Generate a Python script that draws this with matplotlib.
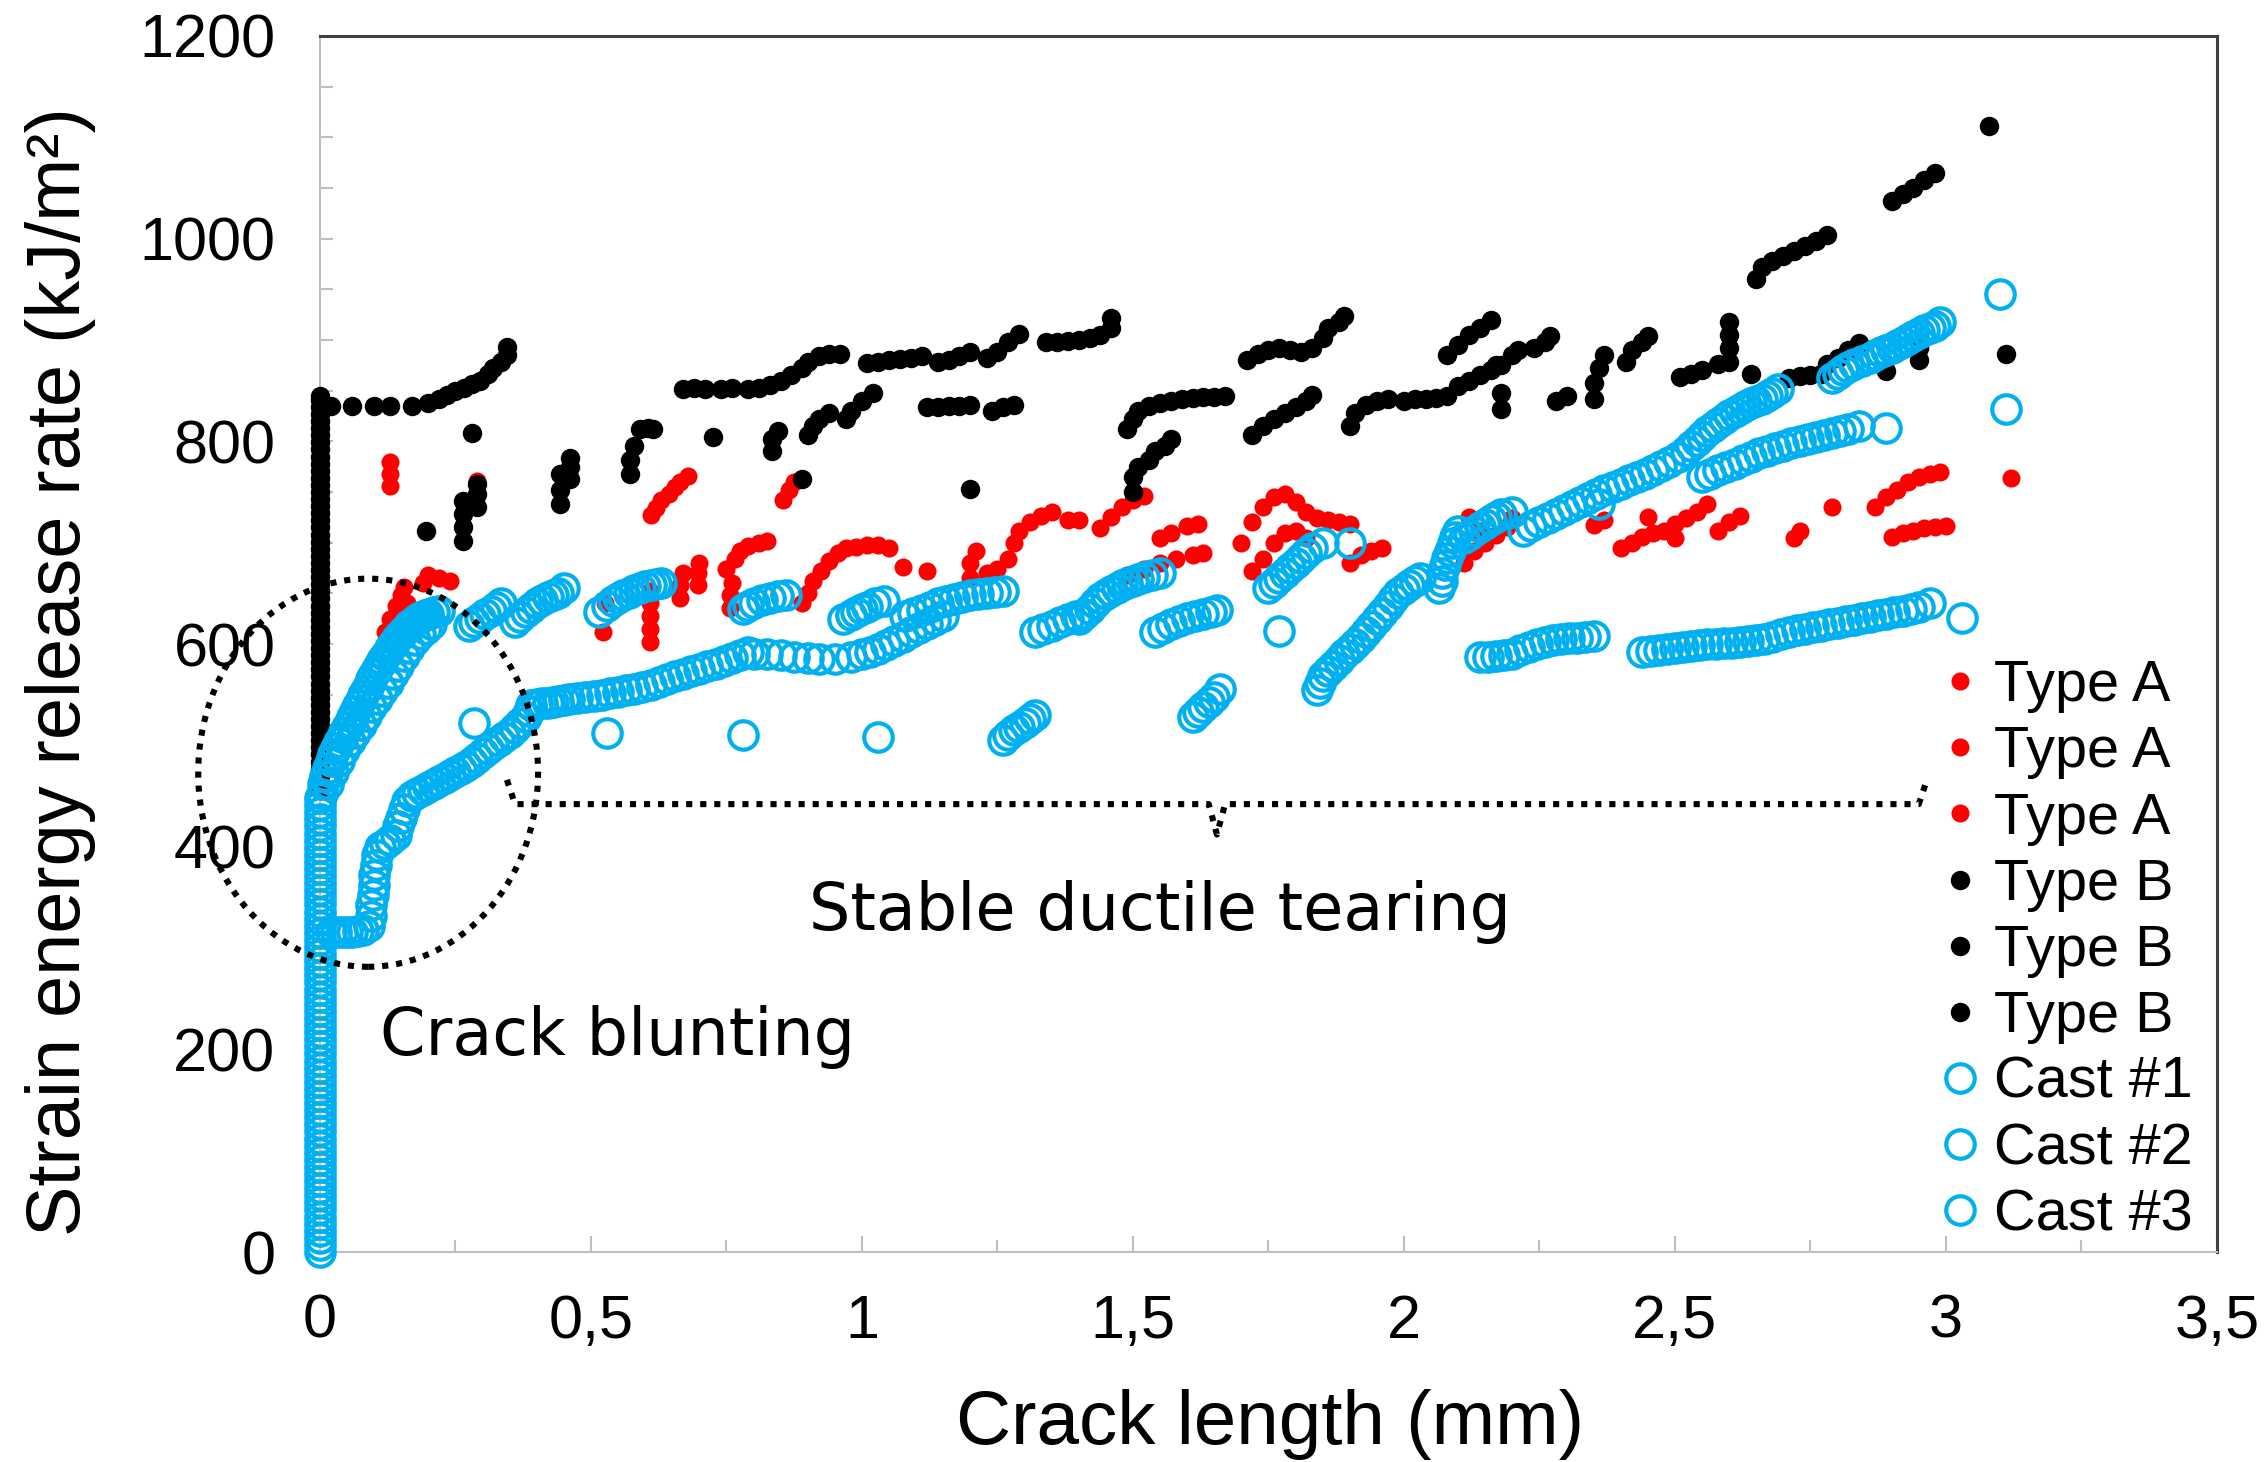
import matplotlib
matplotlib.use('Agg')
import matplotlib.pyplot as plt
from matplotlib.patches import Ellipse
from matplotlib.ticker import MultipleLocator

# Data: (crack length mm, G kJ/m2)

type_a1 = [(0.129, 756), (0.129, 768), (0.129, 780),
           (0.12, 612), (0.13, 625), (0.14, 638), (0.15, 648), (0.155, 656), (0.16, 640),
           (0.19, 660), (0.20, 668), (0.22, 665), (0.24, 662),
           (0.29, 761),
           (0.522, 612), (0.526, 640),
           (0.609, 602), (0.609, 615), (0.609, 628), (0.609, 640), (0.609, 652),
           (0.61, 727), (0.62, 734), (0.63, 742), (0.645, 748), (0.655, 755), (0.665, 760), (0.68, 766),
           (0.664, 645), (0.664, 658), (0.67, 670),
           (0.698, 658), (0.698, 670), (0.70, 680),
           (0.756, 636), (0.756, 648), (0.76, 660),
           (0.75, 674), (0.765, 684), (0.775, 692), (0.79, 697), (0.81, 700), (0.825, 702),
           (0.855, 742), (0.865, 752), (0.875, 760)]

type_a2 = [(0.89, 640), (0.90, 650), (0.91, 662), (0.925, 672), (0.94, 682), (0.955, 690), (0.97, 695),
           (0.99, 696), (1.01, 698), (1.03, 698), (1.05, 695),
           (1.075, 676), (1.12, 672),
           (1.20, 665), (1.20, 680), (1.21, 692), (1.23, 670), (1.25, 674), (1.27, 684), (1.28, 700), (1.29, 712),
           (1.31, 720), (1.33, 726), (1.35, 730), (1.38, 722), (1.40, 722),
           (1.44, 714), (1.46, 725), (1.48, 735), (1.50, 742), (1.52, 746),
           (1.55, 705), (1.57, 710), (1.60, 716), (1.62, 718),
           (1.49, 668), (1.52, 674), (1.55, 680), (1.58, 684), (1.61, 688), (1.63, 690),
           (1.70, 700), (1.72, 720), (1.74, 735), (1.76, 745), (1.78, 748), (1.80, 740), (1.82, 730),
           (1.84, 724), (1.86, 722), (1.88, 720), (1.90, 718),
           (1.72, 672), (1.74, 684), (1.76, 700), (1.78, 710), (1.80, 712), (1.82, 705),
           (1.90, 680), (1.92, 688), (1.94, 692), (1.96, 695)]

type_a3 = [(2.11, 680), (2.13, 692), (2.15, 700), (2.17, 708), (2.19, 715), (2.20, 724), (2.12, 725), (2.14, 712),
           (2.35, 717), (2.37, 722),
           (2.40, 695), (2.42, 700), (2.44, 706), (2.46, 710), (2.48, 712), (2.50, 718), (2.52, 724),
           (2.54, 730), (2.56, 738), (2.45, 725), (2.50, 705),
           (2.58, 712), (2.60, 720), (2.62, 726),
           (2.72, 705), (2.73, 712),
           (2.79, 735),
           (2.87, 735), (2.89, 745), (2.91, 752), (2.93, 760), (2.95, 765), (2.97, 768), (2.99, 770),
           (2.90, 706), (2.92, 710), (2.94, 712), (2.96, 714), (2.98, 715), (3.00, 716),
           (3.12, 764)]

type_b1 = [(0, 456), (0, 463), (0, 470), (0, 477), (0, 484), (0, 491), (0, 498), (0, 505), (0, 512),
           (0, 519), (0, 526), (0, 533), (0, 540), (0, 547), (0, 554), (0, 561), (0, 568), (0, 575),
           (0, 582), (0, 589), (0, 596), (0, 603), (0, 610), (0, 617), (0, 624), (0, 631), (0, 638),
           (0, 645), (0, 652), (0, 659), (0, 666), (0, 673), (0, 680), (0, 687), (0, 694), (0, 701),
           (0, 708), (0, 715), (0, 722), (0, 729), (0, 736), (0, 743), (0, 750), (0, 757), (0, 764),
           (0, 771), (0, 778), (0, 785), (0, 792), (0, 799), (0, 806), (0, 813), (0, 820), (0, 827),
           (0, 834), (0, 841), (0, 845),
           (0.02, 835), (0.06, 835), (0.10, 835), (0.13, 835), (0.17, 835), (0.20, 838), (0.22, 842),
           (0.235, 846), (0.25, 850), (0.265, 853), (0.28, 857), (0.295, 860), (0.31, 866), (0.32, 872),
           (0.335, 878), (0.345, 885), (0.345, 893),
           (0.28, 808), (0.196, 712),
           (0.264, 702), (0.264, 715), (0.264, 728), (0.264, 741),
           (0.29, 735), (0.29, 748), (0.29, 758),
           (0.443, 738), (0.443, 752), (0.443, 768),
           (0.461, 763), (0.461, 775), (0.461, 784),
           (0.572, 768), (0.572, 782), (0.58, 795),
           (0.59, 812), (0.605, 813), (0.614, 812),
           (0.725, 804),
           (0.834, 790), (0.834, 802), (0.845, 810)]

type_b2 = [(0.67, 852), (0.69, 853), (0.71, 852), (0.74, 852), (0.76, 853), (0.79, 852), (0.81, 853),
           (0.83, 856), (0.85, 860), (0.87, 865), (0.89, 872), (0.90, 878), (0.92, 884), (0.94, 886), (0.96, 886),
           (1.01, 877), (1.03, 878), (1.05, 880), (1.07, 881), (1.09, 882), (1.11, 884),
           (1.14, 878), (1.16, 880), (1.18, 884), (1.20, 888),
           (1.23, 882), (1.25, 888), (1.27, 898), (1.29, 906),
           (1.34, 898), (1.36, 898), (1.38, 899), (1.40, 900), (1.42, 902), (1.44, 905), (1.46, 912), (1.46, 922),
           (0.90, 806), (0.91, 815), (0.92, 822), (0.94, 828),
           (0.97, 822), (0.98, 830), (1.00, 840), (1.02, 848),
           (1.12, 834), (1.14, 834), (1.16, 835), (1.18, 835), (1.20, 836),
           (1.24, 830), (1.26, 834), (1.28, 836),
           (0.89, 763), (1.20, 753),
           (1.50, 750), (1.50, 765), (1.51, 775), (1.53, 782), (1.54, 790), (1.56, 795), (1.57, 802),
           (1.49, 812), (1.50, 822), (1.51, 830), (1.53, 835), (1.55, 838), (1.57, 840), (1.59, 842),
           (1.61, 843), (1.63, 844), (1.65, 844), (1.67, 845)]

type_b3 = [(1.71, 880), (1.73, 886), (1.75, 890), (1.77, 892), (1.79, 890), (1.81, 888),
           (1.83, 892), (1.85, 902), (1.86, 912), (1.88, 918), (1.89, 924),
           (1.72, 806), (1.74, 815), (1.76, 822), (1.78, 828), (1.80, 834), (1.82, 840), (1.83, 846),
           (1.90, 815), (1.91, 828), (1.93, 836), (1.95, 840), (1.97, 842),
           (2.00, 840), (2.02, 842), (2.04, 842), (2.06, 843), (2.08, 845),
           (2.10, 855), (2.12, 860), (2.14, 865), (2.16, 870), (2.17, 875),
           (2.08, 885), (2.10, 895), (2.12, 905), (2.14, 912), (2.16, 920),
           (2.18, 875), (2.20, 885), (2.21, 890),
           (2.18, 832), (2.18, 848),
           (2.24, 892), (2.26, 898), (2.27, 904),
           (2.28, 840), (2.30, 845),
           (2.35, 842), (2.35, 858), (2.36, 872), (2.37, 885),
           (2.41, 878), (2.42, 890), (2.44, 898), (2.45, 904),
           (2.51, 863), (2.53, 866), (2.55, 870), (2.58, 876),
           (2.60, 878), (2.60, 892), (2.60, 905), (2.60, 918),
           (2.64, 866),
           (2.71, 862), (2.73, 864), (2.75, 865), (2.77, 866),
           (2.78, 876), (2.80, 882), (2.82, 890), (2.84, 897),
           (2.89, 869), (2.95, 880), (2.95, 892),
           (2.65, 960), (2.66, 972), (2.68, 978), (2.70, 983), (2.72, 988), (2.74, 993), (2.76, 998), (2.78, 1004),
           (2.90, 1037), (2.92, 1044), (2.94, 1050), (2.96, 1058), (2.98, 1065),
           (3.08, 1111), (3.11, 886)]

cast_1 = [(0, 0), (0, 7), (0, 14), (0, 21), (0, 28), (0, 35), (0, 42), (0, 49), (0, 56), (0, 63),
          (0, 70), (0, 77), (0, 84), (0, 91), (0, 98), (0, 105), (0, 112), (0, 119), (0, 126), (0, 133),
          (0, 140), (0, 147), (0, 154), (0, 161), (0, 168), (0, 175), (0, 182), (0, 189), (0, 196),
          (0, 203), (0, 210), (0, 217), (0, 224), (0, 231), (0, 238), (0, 245), (0, 252), (0, 259),
          (0, 266), (0, 273), (0, 280), (0, 287), (0, 294), (0, 301), (0, 308), (0, 315), (0, 322),
          (0, 329), (0, 336), (0, 343), (0, 350), (0, 357), (0, 364), (0, 371), (0, 378), (0, 385),
          (0, 392), (0, 399), (0, 406), (0, 413), (0, 420), (0, 427), (0, 434), (0, 441), (0, 448),
          (0.003, 452), (0.006, 462), (0.01, 470), (0.015, 478), (0.02, 485), (0.025, 491), (0.03, 497),
          (0.035, 503), (0.04, 508), (0.045, 513), (0.05, 518), (0.055, 523), (0.06, 528), (0.065, 534),
          (0.07, 540), (0.075, 545), (0.08, 550), (0.085, 555), (0.09, 560), (0.095, 565), (0.10, 570),
          (0.105, 575), (0.11, 580), (0.115, 584), (0.12, 588), (0.125, 592), (0.13, 596), (0.135, 600),
          (0.14, 604), (0.145, 607), (0.15, 610), (0.155, 613), (0.16, 616), (0.165, 619), (0.17, 621),
          (0.175, 623), (0.18, 625), (0.185, 627), (0.19, 628), (0.195, 629), (0.20, 630), (0.21, 632),
          (0.22, 633),
          (0.015, 462), (0.025, 474), (0.035, 485), (0.045, 495), (0.055, 504), (0.065, 512), (0.075, 520),
          (0.085, 529), (0.095, 538), (0.105, 546), (0.115, 554), (0.125, 562), (0.135, 570), (0.145, 578),
          (0.155, 588), (0.165, 596), (0.175, 604), (0.185, 610), (0.195, 615), (0.205, 620),
          (0.275, 618), (0.285, 622), (0.295, 626), (0.305, 630), (0.315, 633), (0.325, 637), (0.335, 640),
          (0.36, 622), (0.37, 627), (0.38, 632), (0.39, 636), (0.40, 640), (0.41, 643), (0.42, 646),
          (0.43, 648), (0.44, 650), (0.45, 655),
          (0.515, 632), (0.53, 638), (0.54, 642), (0.55, 645), (0.56, 648), (0.57, 650), (0.58, 653),
          (0.59, 655), (0.60, 657), (0.61, 658), (0.62, 659), (0.63, 660),
          (0.78, 635), (0.79, 638), (0.80, 640), (0.815, 643), (0.83, 645), (0.845, 647), (0.86, 648),
          (0.965, 625), (0.98, 629), (0.99, 632), (1.00, 635), (1.01, 637), (1.025, 640), (1.04, 642),
          (1.08, 628), (1.095, 631), (1.11, 634), (1.125, 637), (1.14, 640), (1.155, 642), (1.17, 644),
          (1.185, 646), (1.20, 648), (1.215, 649), (1.23, 650), (1.245, 651), (1.26, 652),
          (1.40, 625), (1.41, 630), (1.42, 635), (1.43, 640), (1.44, 645), (1.45, 649), (1.46, 652),
          (1.47, 655), (1.48, 658), (1.49, 660), (1.50, 662), (1.51, 664), (1.52, 666), (1.535, 668),
          (1.55, 670),
          (0.284, 522), (0.53, 512), (0.78, 510), (1.03, 508)]

cast_2 = [(0.02, 316), (0.03, 316), (0.04, 316), (0.05, 316), (0.06, 316), (0.07, 317), (0.08, 318),
          (0.09, 322), (0.095, 332), (0.095, 342), (0.098, 352), (0.10, 362), (0.10, 372), (0.103, 382),
          (0.106, 392), (0.11, 400), (0.12, 403), (0.13, 407), (0.14, 412), (0.145, 420), (0.15, 428),
          (0.155, 437), (0.16, 445), (0.17, 450), (0.18, 453), (0.19, 456), (0.20, 459), (0.21, 462),
          (0.22, 465), (0.23, 468), (0.24, 471), (0.25, 474), (0.26, 477), (0.27, 480), (0.28, 484),
          (0.29, 488), (0.30, 492), (0.31, 496), (0.32, 500), (0.33, 504), (0.34, 508), (0.35, 512),
          (0.36, 517), (0.37, 522), (0.38, 528), (0.385, 534), (0.39, 540), (0.40, 541), (0.41, 542),
          (0.42, 542), (0.43, 543), (0.44, 544), (0.45, 545), (0.46, 546), (0.475, 547), (0.49, 548),
          (0.505, 549), (0.52, 550), (0.535, 552), (0.55, 553), (0.565, 555), (0.58, 556), (0.595, 558),
          (0.61, 560), (0.625, 563), (0.64, 565), (0.655, 568), (0.67, 570), (0.685, 573), (0.70, 575),
          (0.715, 578), (0.73, 580), (0.745, 583), (0.76, 586), (0.775, 589), (0.79, 592), (0.80, 590),
          (0.825, 590), (0.85, 589), (0.875, 587), (0.90, 586), (0.92, 585), (0.95, 585), (0.98, 587),
          (1.00, 590), (1.015, 592), (1.03, 595), (1.045, 599), (1.06, 603), (1.075, 607), (1.09, 612),
          (1.105, 616), (1.12, 620), (1.135, 624), (1.15, 628),
          (1.26, 505), (1.27, 510), (1.28, 515), (1.29, 518), (1.30, 522), (1.31, 526), (1.32, 530),
          (1.61, 528), (1.62, 533), (1.63, 538), (1.64, 543), (1.65, 548), (1.66, 556),
          (1.32, 612), (1.335, 615), (1.35, 618), (1.365, 622), (1.38, 625), (1.395, 628), (1.41, 630),
          (1.54, 612), (1.555, 616), (1.57, 620), (1.585, 623), (1.60, 626), (1.615, 628), (1.63, 630),
          (1.645, 632), (1.655, 634),
          (1.84, 555), (1.845, 562), (1.85, 568), (1.86, 573), (1.87, 578), (1.88, 584), (1.89, 590),
          (1.90, 595), (1.91, 600), (1.92, 606), (1.93, 612), (1.94, 618), (1.95, 625), (1.96, 631),
          (1.97, 638), (1.98, 644), (1.99, 650), (2.00, 654), (2.01, 658), (2.02, 662), (2.03, 665),
          (1.77, 613), (1.90, 700)]

cast_3 = [(1.75, 655), (1.76, 660), (1.77, 665), (1.78, 670), (1.79, 675), (1.80, 680), (1.81, 685),
          (1.82, 690), (1.83, 695), (1.85, 700),
          (2.065, 655), (2.07, 662), (2.07, 670), (2.075, 678), (2.08, 685), (2.085, 692), (2.09, 700),
          (2.095, 706), (2.10, 712),
          (2.11, 705), (2.12, 708), (2.13, 712), (2.14, 715), (2.15, 718), (2.16, 722), (2.17, 725),
          (2.18, 728), (2.20, 730),
          (2.22, 712), (2.235, 716), (2.25, 720), (2.265, 724), (2.28, 728), (2.295, 732), (2.31, 736),
          (2.325, 740), (2.34, 744), (2.355, 748), (2.37, 752), (2.385, 755), (2.40, 758), (2.415, 762),
          (2.43, 765), (2.445, 768), (2.46, 772), (2.475, 776), (2.49, 780), (2.505, 785), (2.52, 790),
          (2.53, 795), (2.54, 800), (2.55, 805), (2.56, 810), (2.57, 814), (2.58, 818), (2.59, 822),
          (2.60, 826), (2.61, 829), (2.62, 832), (2.63, 835), (2.64, 838), (2.65, 840), (2.66, 842),
          (2.67, 845), (2.68, 848), (2.69, 852),
          (2.36, 738),
          (2.55, 765), (2.565, 768), (2.58, 772), (2.595, 775), (2.61, 778), (2.625, 782), (2.64, 785),
          (2.655, 788), (2.67, 790), (2.685, 793), (2.70, 795), (2.715, 798), (2.73, 800), (2.745, 802),
          (2.76, 804), (2.775, 806), (2.79, 808), (2.805, 810), (2.82, 812), (2.84, 815),
          (2.89, 813),
          (2.79, 862), (2.80, 866), (2.81, 870), (2.82, 873), (2.83, 876), (2.845, 879), (2.86, 882),
          (2.87, 885), (2.88, 888), (2.89, 890), (2.90, 892), (2.91, 895), (2.92, 898), (2.93, 901),
          (2.94, 904), (2.95, 907), (2.96, 910), (2.97, 912), (2.98, 914), (2.99, 918),
          (2.14, 587), (2.155, 587), (2.17, 588), (2.185, 589), (2.20, 590), (2.215, 594), (2.23, 597),
          (2.245, 600), (2.26, 602), (2.275, 604), (2.29, 605), (2.305, 606), (2.32, 606), (2.335, 607),
          (2.35, 608),
          (2.44, 592), (2.455, 593), (2.47, 594), (2.485, 595), (2.50, 596), (2.515, 597), (2.53, 598),
          (2.545, 599), (2.56, 600), (2.575, 600), (2.59, 601), (2.605, 601), (2.62, 602), (2.635, 603),
          (2.65, 604), (2.665, 605), (2.68, 607), (2.695, 610), (2.71, 612), (2.725, 614), (2.74, 615),
          (2.755, 617), (2.77, 618), (2.785, 620), (2.80, 621), (2.815, 623), (2.83, 624), (2.845, 626),
          (2.86, 627), (2.875, 629), (2.89, 630), (2.905, 632), (2.92, 633), (2.935, 635), (2.95, 637),
          (2.97, 640),
          (3.10, 945), (3.11, 832), (3.03, 626)]

x_ticks = [0, 0.5, 1, 1.5, 2, 2.5, 3, 3.5]
x_tick_labels = ['0', '0,5', '1', '1,5', '2', '2,5', '3', '3,5']
y_ticks = [0, 200, 400, 600, 800, 1000, 1200]
y_tick_labels = ['0', '200', '400', '600', '800', '1000', '1200']

# annotation shapes
blunt_center = (0.089, 473)
blunt_w, blunt_h = 0.627, 383
bracket_x = [0.345, 0.36, 1.64, 1.655, 1.67, 2.95, 2.965]
bracket_y = [466, 442, 442, 412, 442, 442, 466]

RED = '#ff0000'
BLACK = '#000000'
CYAN = '#00b0f0'
DOTS = (0, (1.0, 1.3))

plt.rcParams['font.family'] = ['Liberation Sans', 'DejaVu Sans']

fig = plt.figure(figsize=(22.64, 14.62), dpi=100)
ax = fig.add_axes([0.1413, 0.1436, 0.8379, 0.8318])

series = [('Type A', type_a1, 'a'), ('Type A', type_a2, 'a'), ('Type A', type_a3, 'a'),
          ('Type B', type_b1, 'b'), ('Type B', type_b2, 'b'), ('Type B', type_b3, 'b'),
          ('Cast #1', cast_1, 'c'), ('Cast #2', cast_2, 'c'), ('Cast #3', cast_3, 'c')]

for label, pts, kind in series:
    xs = [p[0] for p in pts]
    ys = [p[1] for p in pts]
    if kind == 'a':
        ax.plot(xs, ys, 'o', ms=13, color=RED, mec='none', label=label, clip_on=False, zorder=3)
    elif kind == 'b':
        ax.plot(xs, ys, 'o', ms=14, color=BLACK, mec='none', label=label, clip_on=False, zorder=4)
    else:
        ax.plot(xs, ys, 'o', ms=20.5, mfc='none', mec=CYAN, mew=3.0, label=label, clip_on=False, zorder=5)

ax.set_xlim(0, 3.5)
ax.set_ylim(0, 1200)
ax.set_xticks(x_ticks)
ax.set_xticklabels(x_tick_labels)
ax.set_yticks(y_ticks)
ax.set_yticklabels(y_tick_labels)
ax.xaxis.set_minor_locator(MultipleLocator(0.25))
ax.yaxis.set_minor_locator(MultipleLocator(50))
ax.tick_params(axis='both', which='both', direction='in', color='#bfbfbf', width=1.5, labelsize=44)
ax.tick_params(axis='x', which='major', length=11.5, pad=30)
ax.tick_params(axis='x', which='minor', length=8.5)
ax.tick_params(axis='y', which='both', length=9, pad=32)

for s in ['left', 'bottom']:
    ax.spines[s].set_color('#bfbfbf')
    ax.spines[s].set_linewidth(1.5)
for s in ['top', 'right']:
    ax.spines[s].set_color('#404040')
    ax.spines[s].set_linewidth(2.2)

ax.set_xlabel('Crack length (mm)', fontsize=55)
ax.set_ylabel('Strain energy release rate (kJ/m²)', fontsize=54.5)
ax.xaxis.set_label_coords(0.501, -0.113)
ax.yaxis.set_label_coords(-0.118, 0.477)

# dotted annotations
ax.add_patch(Ellipse(blunt_center, blunt_w, blunt_h, fill=False, ec='black', lw=4.4,
                     ls=DOTS, clip_on=False, zorder=6))
ax.plot(bracket_x, bracket_y, color='black', lw=4.4, ls=DOTS, clip_on=False, zorder=6)
ax.text(0.11, 212, 'Crack blunting', fontsize=47, family='DejaVu Sans', va='center', ha='left')
ax.text(0.902, 336, 'Stable ductile tearing', fontsize=47, family='DejaVu Sans', va='center', ha='left')

ax.legend(loc='upper left', bbox_to_anchor=(0.858, 0.549), bbox_transform=fig.transFigure,
          frameon=False, fontsize=41.5, borderpad=0, borderaxespad=0, handlelength=0.6,
          handletextpad=0.3, labelspacing=0.21)

fig.savefig('out.png', dpi=100)
